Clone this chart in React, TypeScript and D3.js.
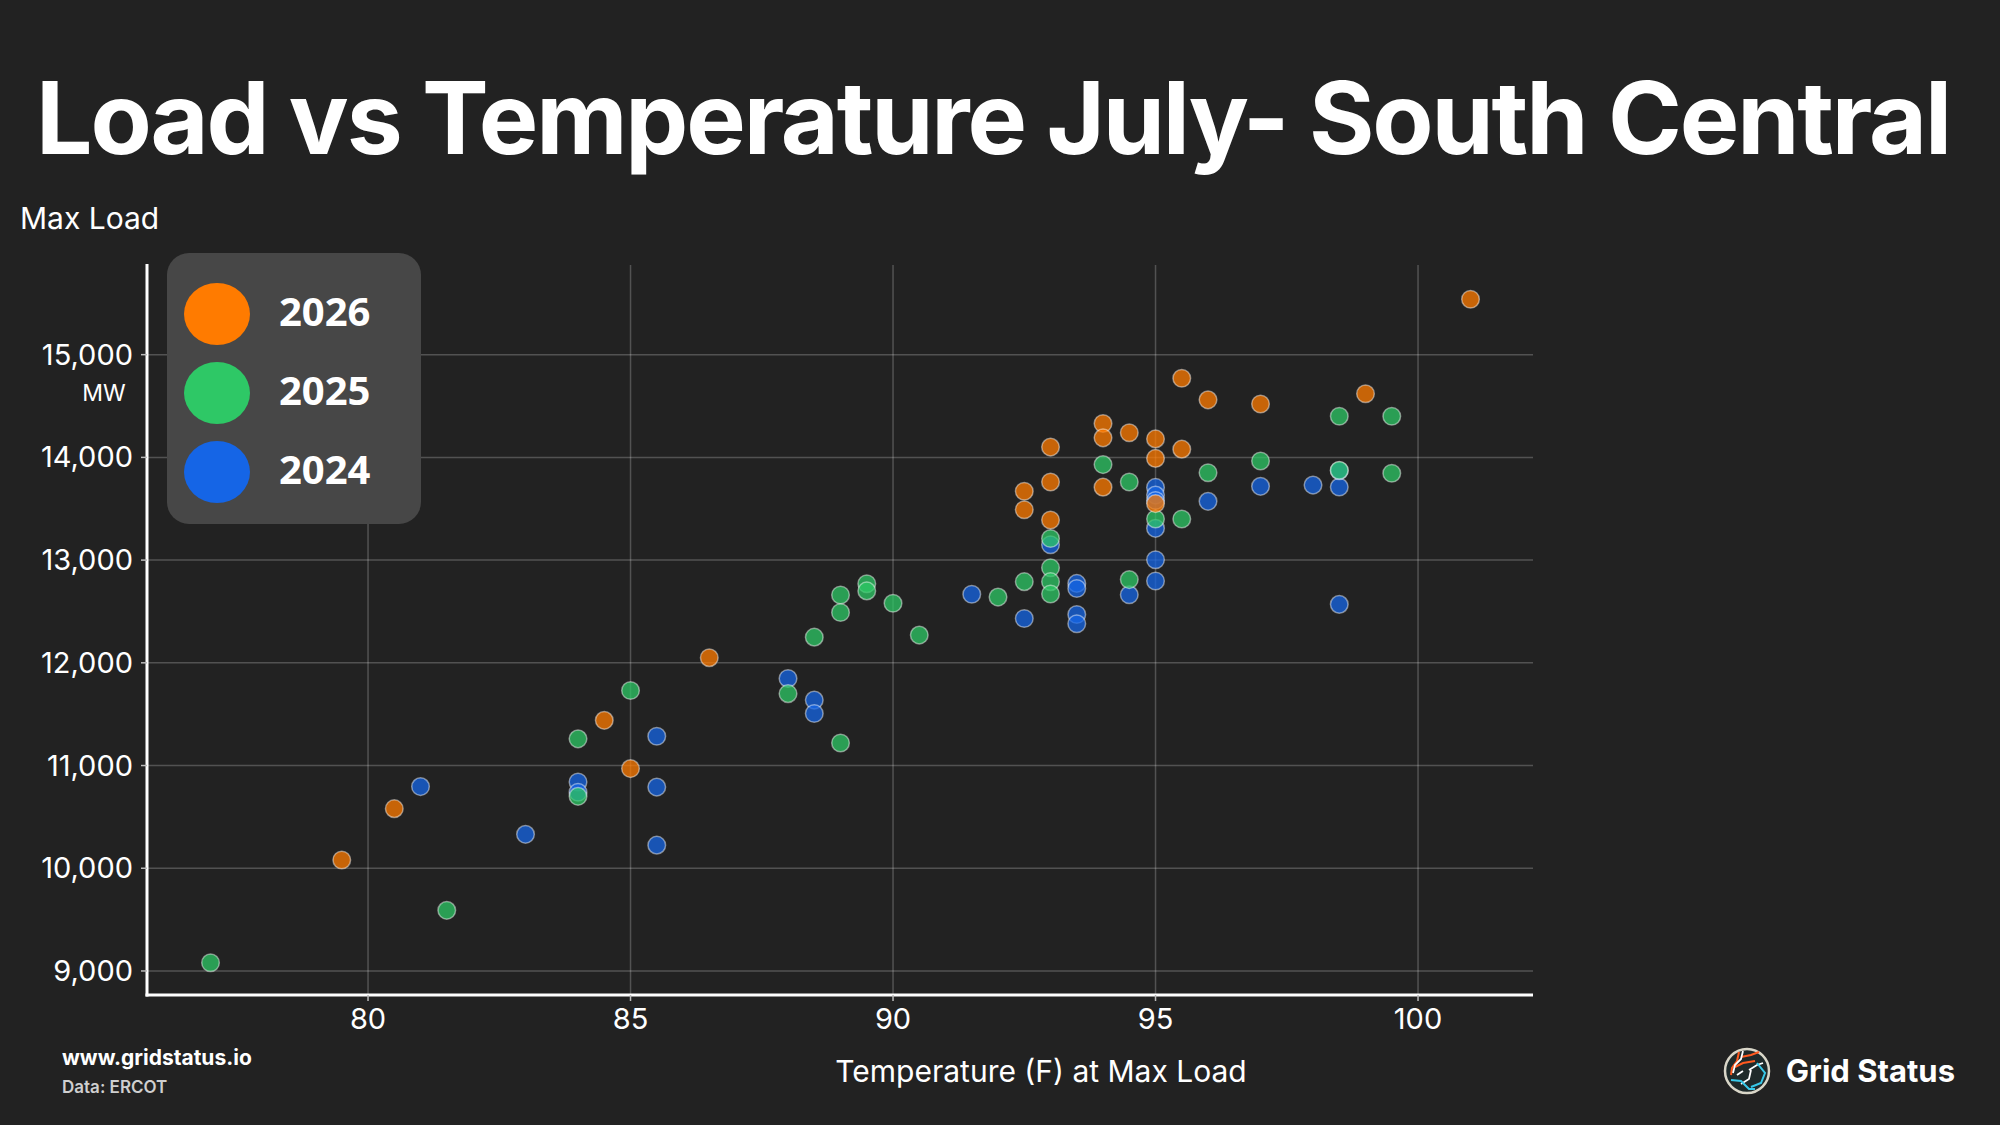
import * as d3 from "d3"

// temperature (F) at max load / max load (MW), one pair of arrays per year
const temps2026 = [79.5, 80.5, 84.5, 85, 86.5, 92.5, 92.5, 93, 93, 93, 94, 94, 94, 94.5, 95, 95, 95, 95.5, 95.5, 96, 97, 99, 101]
const loads2026 = [10080, 10580, 11440, 10970, 12050, 13670, 13490, 14100, 13760, 13390, 14330, 14190, 13710, 14240, 14180, 13990, 13550, 14770, 14080, 14560, 14520, 14620, 15540]

const temps2025 = [77, 81.5, 84, 84, 85, 88, 88.5, 89, 89, 89, 89.5, 89.5, 90, 90.5, 92, 92.5, 93, 93, 93, 93, 94, 94.5, 94.5, 95, 95.5, 96, 97, 98.5, 98.5, 99.5, 99.5]
const loads2025 = [9080, 9590, 11260, 10700, 11730, 11700, 12250, 12660, 12490, 11220, 12770, 12700, 12580, 12270, 12640, 12790, 13210, 12925, 12790, 12670, 13930, 13760, 12810, 13400, 13400, 13850, 13965, 14400, 13875, 14400, 13845]

const temps2024 = [81, 83, 84, 84, 85.5, 85.5, 85.5, 88, 88.5, 88.5, 91.5, 92.5, 93, 93.5, 93.5, 93.5, 93.5, 94.5, 95, 95, 95, 95, 95, 95, 96, 97, 98, 98.5, 98.5, 98.5]
const loads2024 = [10795, 10330, 10840, 10740, 11285, 10790, 10225, 11848, 11637, 11507, 12668, 12432, 13150, 12773, 12724, 12471, 12380, 12662, 13708, 13633, 13580, 13309, 13003, 12796, 13572, 13718, 13730, 13711, 13870, 12569]

const xTicks = [80, 85, 90, 95, 100]
const yTicks = [9000, 10000, 11000, 12000, 13000, 14000, 15000]

// legend order, top to bottom
const legendYears = ["2026", "2025", "2024"]
const colors: Record<string, string> = { "2026": "#ff7b00", "2025": "#2ec866", "2024": "#1565e6" }

// drawing order (2024 sits underneath)
const series = [
  { year: "2024", temps: temps2024, loads: loads2024 },
  { year: "2025", temps: temps2025, loads: loads2025 },
  { year: "2026", temps: temps2026, loads: loads2026 },
]

const W = 2000
const H = 1125
const bg = "#222222"
const font = "Inter, 'Open Sans', sans-serif"
const plot = { left: 147, right: 1533, top: 265, bottom: 995 }

export default function App() {
  const x = d3.scaleLinear().domain([75.79, 102.19]).range([plot.left, plot.right])
  const y = d3.scaleLinear().domain([8766, 15873]).range([plot.bottom, plot.top])
  const fmt = d3.format(",")

  return (
    <svg width={W} height={H} style={{ position: "absolute", left: 0, top: 0, display: "block" }}>
      <rect width={W} height={H} fill={bg} />

      <text x={36} y={154} fill="#fff" fontFamily={font} fontWeight={700} fontSize={100} textLength={1916} lengthAdjust="spacing">
        Load vs Temperature July- South Central
      </text>

      <text x={20} y={229} fill="#fff" fontFamily={font} fontSize={30}>
        Max Load
      </text>

      {/* grid */}
      {xTicks.map((t) => (
        <line key={"gx" + t} x1={x(t)} x2={x(t)} y1={plot.top} y2={plot.bottom} stroke="rgba(255,255,255,0.22)" strokeWidth={1.5} />
      ))}
      {yTicks.map((t) => (
        <line key={"gy" + t} x1={plot.left} x2={plot.right} y1={y(t)} y2={y(t)} stroke="rgba(255,255,255,0.22)" strokeWidth={1.5} />
      ))}

      {/* points */}
      {series.map((s) => (
        <g key={s.year}>
          {s.temps.map((t, i) => (
            <circle
              key={i}
              cx={x(t)}
              cy={y(s.loads[i])}
              r={8.8}
              fill={colors[s.year]}
              fillOpacity={0.75}
              stroke="rgba(255,255,255,0.45)"
              strokeWidth={1.5}
            />
          ))}
        </g>
      ))}

      {/* axes */}
      <line x1={plot.left} x2={plot.left} y1={plot.top - 1} y2={plot.bottom + 1.5} stroke="#fff" strokeWidth={3} />
      <line x1={plot.left - 1.5} x2={plot.right} y1={plot.bottom} y2={plot.bottom} stroke="#fff" strokeWidth={3} />

      {yTicks.map((t) => (
        <g key={"ty" + t}>
          <line x1={plot.left - 6} x2={plot.left} y1={y(t)} y2={y(t)} stroke="#bbb" strokeWidth={1.5} />
          <text x={133} y={y(t) + 10} textAnchor="end" fill="#fff" fontFamily={font} fontSize={29}>
            {fmt(t)}
          </text>
        </g>
      ))}
      <text x={104} y={401} textAnchor="middle" fill="#fff" fontFamily={font} fontSize={23}>
        MW
      </text>

      {xTicks.map((t) => (
        <g key={"tx" + t}>
          <line x1={x(t)} x2={x(t)} y1={plot.bottom} y2={plot.bottom + 6} stroke="#bbb" strokeWidth={1.5} />
          <text x={x(t)} y={1029} textAnchor="middle" fill="#fff" fontFamily={font} fontSize={29}>
            {t}
          </text>
        </g>
      ))}

      <text x={1041} y={1082} textAnchor="middle" fill="#fff" fontFamily={font} fontSize={30}>
        Temperature (F) at Max Load
      </text>

      {/* legend */}
      <rect x={167} y={253} width={254} height={271} rx={22} fill="#474747" />
      {legendYears.map((yr, i) => (
        <g key={yr}>
          <ellipse cx={217} cy={314 + i * 79} rx={33} ry={31} fill={colors[yr]} />
          <text x={279} y={314 + i * 79 + 12} fill="#fff" fontFamily="'Open Sans', sans-serif" fontWeight={700} fontSize={40}>
            {yr}
          </text>
        </g>
      ))}

      {/* footer */}
      <text x={62} y={1065} fill="#fff" fontFamily={font} fontWeight={700} fontSize={21}>
        www.gridstatus.io
      </text>
      <text x={62} y={1093} fill="#cfcfcf" fontFamily={font} fontWeight={600} fontSize={17}>
        Data: ERCOT
      </text>

      {/* logo */}
      <g transform="translate(1747,1071)">
        <circle r={22} fill="#1f2a2a" stroke="#d9d6c8" strokeWidth={2.5} />
        <path d="M-8,-19 L-10,-10 L-15,-3 L-16,4" fill="none" stroke="#ff5a1f" strokeWidth={2} />
        <path d="M-6,-14 L4,-16 L12,-19 M-12,-4 L-4,-8 L8,-10" fill="none" stroke="#ff5a1f" strokeWidth={2} />
        <path d="M-4,-20 L-6,-12 L-12,-6 L-14,2 M-10,4 L-4,0 M2,-1 L10,-6 L16,-8 M4,-1 L2,8 L-6,13" fill="none" stroke="#ffffff" strokeWidth={1.8} />
        <path d="M-16,9 L-6,10 L2,18 L8,18 M10,-8 L18,2 L14,12 L4,16" fill="none" stroke="#38c8e8" strokeWidth={2} />
      </g>
      <text x={1955} y={1082} textAnchor="end" fill="#fff" fontFamily={font} fontWeight={700} fontSize={31}>
        Grid Status
      </text>
    </svg>
  )
}
